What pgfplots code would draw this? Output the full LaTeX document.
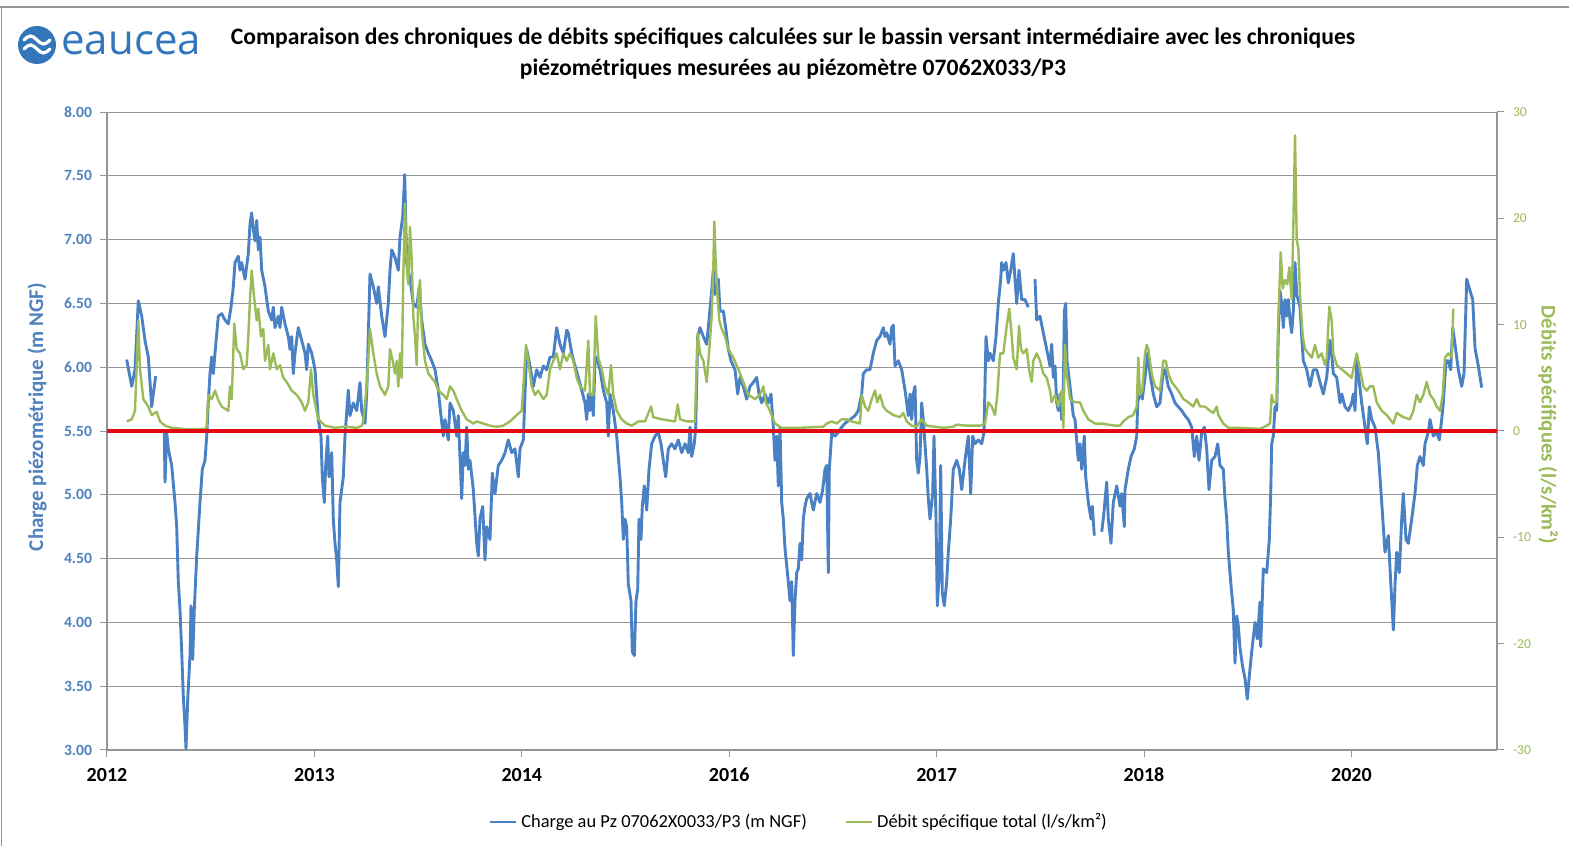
\documentclass[border=0pt]{standalone}
\usepackage{fontspec}
\setmainfont{Carlito}
\newfontfamily\logofont{Open Sans}
\usepackage{pgfplots}
\pgfplotsset{compat=1.18}
\definecolor{lineblue}{RGB}{74,128,196}
\definecolor{tickblue}{RGB}{79,129,189}
\definecolor{linegreen}{RGB}{155,187,89}
\definecolor{lineRed}{RGB}{228,10,20}
\definecolor{gridgray}{RGB}{150,150,150}
\definecolor{logoblue}{RGB}{52,118,186}
\begin{document}
\begin{tikzpicture}[x=0.5pt,y=0.5pt]
\useasboundingbox (0,0) rectangle (1569,846);
\fill[white] (0,0) rectangle (1569,846);
\draw[gridgray, line width=0.7pt] (0,839) -- (1569,839);
\draw[gridgray, line width=0.7pt] (1.5,839) -- (1.5,0);
% logo
\fill[logoblue] (37,801) circle (19);
\draw[white, line width=1.6pt, line cap=round] (24,806) sin (30.5,810) cos (37,806) sin (43.5,802) cos (50,806);
\draw[white, line width=1.6pt, line cap=round] (24,797) sin (30.5,801) cos (37,797) sin (43.5,793) cos (50,797);
\node[anchor=west, inner sep=0, text=logoblue, font=\logofont\fontsize{21}{24}\selectfont] at (61,803) {eaucea};
% title
\node[font=\bfseries\fontsize{11.8}{13}\selectfont] at (793,808) {Comparaison des chroniques de débits spécifiques calculées sur le bassin versant intermédiaire avec les chroniques};
\node[font=\bfseries\fontsize{11.8}{13}\selectfont] at (793,777) {piézométriques mesurées au piézomètre 07062X033/P3};
% axis labels
\node[rotate=90, font=\bfseries\fontsize{10.5}{12}\selectfont, text=tickblue] at (37,429) {Charge piézométrique (m NGF)};
\node[rotate=-90, font=\bfseries\fontsize{10.4}{12}\selectfont, text=linegreen] at (1548,421) {Débits spécifiques (l/s/km²)};

\begin{axis}[
  at={(53.5pt,48pt)}, anchor=south west, scale only axis,
  width=695pt, height=319pt,
  xmin=0, xmax=1390, ymin=3, ymax=8,
  axis x line*=bottom, axis y line*=left,
  axis line style={gridgray, line width=0.6pt, -},
  xtick={0,207.4,414.8,622.2,829.6,1037,1244.4},
  xticklabels={2012,2013,2014,2016,2017,2018,2020},
  ytick={3,3.5,4,4.5,5,5.5,6,6.5,7,7.5,8},
  ymajorgrids, grid style={gridgray, line width=0.5pt},
  tick align=outside, major tick length=3.5pt,
  tick style={gridgray, line width=0.5pt},
  x tick label style={font=\bfseries\fontsize{10}{12}\selectfont, yshift=-2pt},
  y tick label style={font=\bfseries\fontsize{7.8}{9}\selectfont, text=tickblue, xshift=-0.5pt},
  yticklabel style={/pgf/number format/.cd, fixed, fixed zerofill, precision=2},
  /pgf/number format/assume math mode=true,
  unbounded coords=jump,
]
\addplot[lineblue, line width=1.45pt, line join=round] coordinates {
(19.7,6.06) (24.7,5.85) (28,5.98) (31.3,6.52) (34.7,6.40) (38,6.21) (41.3,6.08) (44.7,5.69) (46.3,5.79) (48.7,5.93)
(53,nan)
(57.3,5.49) (58,5.10) (59.7,5.49) (61.3,5.36) (64.7,5.23) (68,4.94) (69.7,4.75) (71.3,4.32) (73,4.10) (74.7,3.77)
(76.3,3.42) (78,3.19) (79,3.01) (80.7,3.39) (83,3.74) (84,4.13) (85.7,3.71) (87.3,4.10) (89.7,4.52) (93,4.94)
(95.3,5.20) (98,5.27) (99.7,5.46) (101.3,5.72) (103,5.95) (104.7,6.08) (106.3,5.95) (108,6.11) (111.3,6.40) (114.7,6.42)
(118,6.37) (121.3,6.34) (124,6.47) (126.3,6.63) (128,6.82) (131.3,6.87) (133,6.76) (134.7,6.82) (138,6.69) (141.3,6.89)
(143,7.12) (144.7,7.21) (146.3,7.08) (148,6.99) (149.7,7.15) (151.3,6.92) (153,7.02) (154.7,6.76) (158,6.63) (161.3,6.44)
(164.7,6.37) (166.3,6.47) (168,6.31) (171.3,6.40) (173,6.31) (174.7,6.47) (178,6.34) (181.3,6.24) (183,6.14) (184.7,6.24)
(186.3,5.95) (188,6.11) (191.3,6.31) (194.7,6.21) (198,6.11) (199.7,5.98) (201.3,6.18) (204.7,6.11) (206.3,6.05) (208,5.98)
(211.3,5.59) (214,5.46) (215.3,5.14) (217.3,4.94) (218.7,5.23) (220.7,5.46) (222,5.14) (224.7,5.33) (226.3,4.81) (228,4.62)
(229.7,4.49) (231.3,4.28) (233,4.94) (236.3,5.14) (238,5.46) (241.3,5.82) (243,5.62) (246.3,5.72) (249.7,5.66) (253,5.88)
(254.7,5.66) (258,5.56) (259.7,5.79) (263,6.73) (266.3,6.63) (269.7,6.50) (271.3,6.63) (274.7,6.40) (278,6.24) (281.3,6.50)
(283,6.76) (284.7,6.92) (288,6.86) (291.3,6.76) (293,7.02) (295.7,7.18) (297.7,7.51) (299.7,6.82) (303,6.69) (306.3,6.50)
(309.7,6.47) (312.3,6.63) (314.7,6.37) (318,6.18) (321.3,6.11) (324.7,6.05) (328,5.98) (331.3,5.82) (333,5.69) (336.3,5.46)
(338,5.59) (341.3,5.43) (343,5.72) (346.3,5.66) (349.7,5.46) (351.3,5.62) (354.7,4.97) (356.3,5.33) (358,5.23) (359.7,5.53)
(361.3,5.20) (363,5.27) (366.3,5.04) (369.7,4.62) (371.3,4.52) (373,4.81) (375.7,4.91) (378,4.49) (379.7,4.75) (383,4.65)
(385.3,5.17) (388,5.01) (391.3,5.23) (394.7,5.27) (398,5.33) (401.3,5.43) (404.7,5.33) (408,5.36) (411.3,5.14) (413,5.36)
(416.3,5.43) (418,5.79) (419.7,6.14) (423,6.01) (426.3,5.85) (429.7,5.98) (433,5.92) (436.3,6.01) (439.7,5.98) (443,6.08)
(446.3,6.08) (449.7,6.31) (453,6.18) (456.3,6.11) (459.7,6.29) (461.3,6.27) (464.7,6.11) (468,6.01) (471.3,5.92) (474.7,5.82)
(478,5.72) (479.7,5.59) (481.3,5.79) (483,5.66) (484.7,5.79) (486.3,5.62) (488,6.05) (489.7,6.08) (493,5.98) (496.3,5.82)
(499.7,5.72) (501.3,5.46) (503,5.79) (506.3,5.66) (509.7,5.46) (511.3,5.30) (513,5.14) (514.7,4.94) (516.3,4.65) (518,4.81)
(519.7,4.75) (521.3,4.30) (524,4.17) (525.3,3.77) (527.3,3.74) (529,4.17) (530.7,4.26) (532,4.81) (534,4.65) (535.3,4.91)
(537.3,5.07) (539.7,4.88) (542,5.20) (544.7,5.40) (548,5.46) (551.3,5.49) (554,5.40) (556.3,5.27) (558.7,5.14) (561.3,5.36)
(564.7,5.40) (568,5.36) (571.3,5.43) (574.7,5.33) (578,5.40) (581.3,5.33) (583,5.53) (584.7,5.30) (587.3,5.40) (588.7,5.53)
(590.7,6.24) (593,6.31) (596.3,6.24) (599.7,6.18) (602,6.37) (604.7,6.60) (606.3,6.76) (608,6.57) (609.7,6.63) (611.3,6.69)
(613,6.44) (616.3,6.44) (618.7,6.31) (621.3,6.14) (624,6.05) (628,5.98) (630.7,5.79) (633,5.92) (636.3,5.85) (639.7,5.75)
(643,5.85) (646.3,5.88) (649.7,5.92) (652,5.79) (654.7,5.72) (658,5.79) (661.3,5.72) (664,5.79) (666.3,5.53) (668,5.27)
(669.7,5.46) (671.3,5.07) (673,5.53) (674.7,4.94) (676.3,4.81) (678,4.58) (681.3,4.32) (683,4.17) (684.7,4.32) (686.3,3.74)
(688,4.17) (689.7,4.39) (691.3,4.42) (693,4.62) (694.7,4.49) (696.3,4.81) (698,4.91) (699.7,4.97) (703,5.01) (704.7,4.94)
(706.3,4.88) (709.7,5.01) (713,4.94) (715.7,5.04) (718,5.20) (719.7,5.23) (721.3,4.39) (722.3,5.20) (723.7,5.36) (724.7,5.49)
(728,5.46) (731.3,5.49) (734.7,5.53) (738,5.56) (743,5.59) (748,5.62) (751.3,5.66) (754.7,5.79) (756.3,5.95) (759.7,5.98)
(763,5.98) (766.3,6.11) (769.7,6.21) (773,6.24) (776.3,6.31) (778,6.24) (779.7,6.27) (783,6.18) (784.7,6.31) (786.3,6.33)
(788,6.01) (791.3,6.05) (794.7,5.98) (798,5.82) (799.7,5.72) (801.3,5.62) (803,5.79) (804.7,5.59) (806.3,5.79) (808,5.85)
(809.7,5.27) (811.3,5.17) (813,5.30) (814.7,5.72) (816.3,5.59) (819.7,5.20) (821.3,4.97) (823,4.81) (825.7,5.01) (827,5.46)
(829,4.81) (830.3,4.13) (832.3,4.39) (833.7,5.23) (835.3,4.23) (837.3,4.13) (839.7,4.32) (841.3,4.55) (843.7,4.81) (846.3,5.20)
(849.7,5.27) (852.3,5.20) (854.7,5.04) (858,5.27) (861.3,5.46) (863.7,5.01) (865.7,5.46) (868,5.40) (871.3,5.43) (874.7,5.40)
(877,5.49) (879,6.24) (881.3,6.05) (883,6.11) (886.3,6.05) (889,6.24) (891.3,6.50) (893.7,6.69) (894.7,6.82) (896.3,6.76)
(899,6.82) (901.3,6.66) (903.7,6.76) (906.3,6.89) (909.7,6.50) (912,6.76) (914.7,6.53) (918,6.53) (921.3,6.47)
(924.5,nan)
(928,6.69) (929.7,6.37) (933,6.40) (936.3,6.27) (939.7,6.14) (943,6.01) (944.7,6.18) (946.3,5.92) (948,6.01) (949.7,5.72)
(951.3,5.66) (953,5.79) (954.7,5.59) (956.3,5.79) (957.3,6.44) (958.7,6.50) (960,6.05) (963,5.85) (966.3,5.62) (968,5.59)
(971.3,5.27) (973,5.40) (974.7,5.20) (977.3,5.46) (978.7,5.14) (981.3,4.94) (984,4.81) (985.3,4.91) (987.3,4.68)
(991,nan)
(994.7,4.71) (996.3,4.81) (999.7,5.10) (1001.3,4.81) (1004,4.62) (1006.3,4.94) (1009.7,5.07) (1013,4.91) (1014.7,5.01) (1017.3,4.75)
(1018,5.04) (1021.3,5.20) (1024,5.30) (1027.3,5.36) (1029.7,5.46) (1030.7,5.72) (1033,5.82) (1035.3,5.75) (1038,5.92) (1040.7,6.11)
(1043,5.95) (1046.3,5.79) (1049.7,5.69) (1053,5.72) (1056.3,5.98) (1058,5.98) (1061.3,5.85) (1064.7,5.79) (1068,5.72) (1071.3,5.69)
(1074.7,5.66) (1078,5.62) (1081.3,5.59) (1084.7,5.53) (1087.3,5.30) (1089.7,5.46) (1092,5.27) (1094.7,5.49) (1097.3,5.53) (1099.7,5.36)
(1102,5.04) (1104.7,5.27) (1108,5.30) (1110.7,5.40) (1113,5.23) (1116.3,5.20) (1118,4.97) (1119.7,4.81) (1121.3,4.55) (1124,4.29)
(1126.3,4.10) (1128,3.68) (1129.7,4.05) (1131.3,3.97) (1133,3.80) (1135.7,3.65) (1138,3.56) (1140.3,3.40) (1142.3,3.58) (1144.7,3.77)
(1148,4.00) (1150.3,3.87) (1153,4.16) (1153.7,3.81) (1156.3,4.42) (1159.7,4.39) (1162.3,4.65) (1163.7,5.01) (1164.7,5.40) (1166.3,5.46)
(1168,5.69) (1169.7,5.66) (1171.3,6.27) (1173,6.60) (1174.7,6.50) (1176.3,6.31) (1178,6.53) (1179.7,6.40) (1181.3,6.53) (1183,6.37)
(1184.7,6.27) (1186.3,6.44) (1188,6.82) (1189.7,6.57) (1193,6.47) (1194.7,6.24) (1196.3,6.05) (1199.7,5.98) (1203,5.85) (1206.3,5.98)
(1209.7,5.98) (1213,5.88) (1216.3,5.79) (1219.7,5.92) (1223,6.21) (1224.7,6.11) (1226.3,5.95) (1229.7,5.92) (1233,5.72) (1234.7,5.79)
(1238,5.69) (1241.3,5.66) (1244.7,5.72) (1246.3,5.79) (1248,5.66) (1249.7,6.05) (1251.3,5.95) (1254.7,5.72) (1258,5.53) (1260.3,5.40)
(1262.3,5.69) (1264.7,5.59) (1268,5.53) (1271.3,5.33) (1274.7,4.94) (1278,4.55) (1281.3,4.68) (1283.7,4.32) (1286.3,3.94) (1288,4.29)
(1289.7,4.55) (1292.3,4.39) (1294.7,4.81) (1296.3,5.01) (1299,4.65) (1301.3,4.62) (1304.7,4.81) (1308,5.01) (1310.3,5.23) (1313,5.30)
(1316.3,5.23) (1318,5.40) (1321.3,5.49) (1323,5.59) (1326.3,5.46) (1329.7,5.49) (1332.3,5.43) (1334.7,5.59) (1336.3,5.72) (1339,6.05)
(1341.3,6.05) (1343.7,5.98) (1345.7,6.31) (1348,6.18) (1351.3,5.98) (1354.7,5.85) (1357,5.95) (1359.7,6.69) (1363,6.60) (1365.7,6.53)
(1368,6.15) (1371.3,6.01) (1374.7,5.84)
};
\end{axis}

\begin{axis}[
  at={(53.5pt,48pt)}, anchor=south west, scale only axis,
  width=695pt, height=319pt,
  xmin=0, xmax=1390, ymin=-30, ymax=30,
  axis x line=none, axis y line*=right,
  axis line style={gridgray, line width=0.6pt, -},
  ytick={-30,-20,-10,0,10,20,30},
  tick align=outside, major tick length=3.5pt,
  tick style={gridgray, line width=0.5pt},
  y tick label style={font=\fontsize{6.8}{8}\selectfont, text=linegreen, xshift=1pt},
  /pgf/number format/assume math mode=true,
  legend style={at={(0.4985,-0.113)}, anchor=center, draw=none, fill=none,
    font=\fontsize{9.2}{10}\selectfont, legend columns=2,
    /tikz/every even column/.append style={column sep=17pt},
    /tikz/every odd column/.append style={column sep=0pt}},
  legend image code/.code={\draw[#1] (0pt,0pt) -- (13pt,0pt);},
]
\addlegendimage{lineblue, line width=1.2pt}
\addlegendentry{Charge au Pz 07062X0033/P3 (m NGF)}
\addplot[linegreen, line width=1.2pt, line join=round] coordinates {
(19.7,0.9) (24.7,1.1) (28,1.9) (31.3,10.4) (33,5.8) (36.3,3.0) (41.3,2.3) (44.7,1.5) (49.7,1.8) (53,0.9)
(58,0.5) (64.7,0.3) (81.3,0.15) (98,0.2) (99.7,0.4) (101.3,3.4) (104.7,3.0) (108,3.8) (111.3,2.9) (114.7,2.3)
(121.3,1.9) (123,4.2) (124.7,3.0) (127.3,10.1) (129.7,7.7) (133,7.3) (136.3,5.8) (139.7,6.2) (141.3,8.9) (143,12.4)
(144.7,15.1) (147.3,12.4) (149.7,10.4) (151.3,11.5) (154,8.9) (156.3,9.6) (158,6.6) (161.3,8.1) (163,5.8) (166.3,7.3)
(169.7,5.8) (173,6.2) (176.3,5.0) (179.7,4.6) (184.7,3.8) (189.7,3.4) (194.7,2.7) (198,1.9) (201.3,2.7) (204,5.8)
(206.3,3.4) (211.3,1.1) (218,0.5) (228,0.3) (238,0.4) (250,0.3) (255,0.5) (256.3,1.0) (259.7,4.2) (263,9.6)
(266.3,7.3) (269.7,5.4) (273,4.2) (278,3.4) (281.3,4.2) (283,7.7) (285.7,6.6) (288,5.4) (289.7,6.6) (291.3,4.2)
(293,7.3) (294.7,5.0) (296.3,14.6) (298,21.4) (299.7,15.4) (301.3,13.8) (303,19.2) (304.7,16.1) (306.3,10.8) (308,8.9)
(309.7,6.2) (311.3,12.6) (313,14.2) (314.7,9.6) (318,6.6) (321.3,5.4) (324.7,5.0) (328,4.6) (331.3,3.8) (336.3,3.4)
(339.7,3.0) (343,4.2) (346.3,3.8) (349.7,3.0) (354.7,1.9) (359.7,1.1) (366.3,0.7) (369.7,0.9) (376.3,0.7) (383,0.5)
(389.7,0.4) (396.3,0.5) (403,0.9) (409.7,1.5) (414.7,1.9) (419,8.1) (421.3,6.6) (424.7,4.2) (428,3.4) (431.3,3.8)
(436.3,3.0) (439.7,3.4) (443,5.8) (446.3,6.6) (449.7,7.3) (453,5.8) (456.3,7.3) (459.7,6.6) (463,7.3) (466.3,6.6)
(469.7,5.0) (473,4.2) (478,3.8) (481.3,8.5) (483,3.4) (486.3,3.4) (488.7,10.8) (491.3,6.9) (494.7,5.8) (498,4.2)
(501.3,3.4) (504,6.2) (506.3,3.4) (509.7,1.9) (514.7,1.1) (519.7,0.7) (524.7,0.5) (531.3,0.9) (538,0.9) (544,2.3)
(546.3,1.3) (554.7,1.1) (561.3,1.0) (568,0.9) (570.7,2.5) (573,1.1) (579.7,0.9) (588,0.9) (590.7,9.2) (593,7.3)
(596.3,6.6) (599.7,4.6) (602,7.3) (604.7,10.8) (606.3,15.4) (607.3,19.7) (608.7,15.8) (610.7,12.4) (612.3,10.4) (614.7,9.6)
(618,8.9) (621.3,7.7) (626.3,6.9) (631.3,5.8) (636.3,4.6) (641.3,3.4) (648,3.0) (653,3.4) (656.3,4.2) (658.7,2.7)
(663,1.9) (668,0.7) (674.7,0.3) (693,0.3) (716.3,0.4) (719.7,0.7) (724.7,0.9) (729.7,0.7) (734.7,1.1) (739.7,1.1)
(744.7,0.9) (753,0.7) (754.7,3.4) (758,2.3) (761.3,1.9) (764.7,3.0) (768,3.8) (770.3,2.7) (773,3.4) (776.3,2.3)
(779.7,1.9) (786.3,1.5) (793,1.3) (796.3,1.7) (799.7,0.9) (804.7,0.5) (809.7,0.4) (814.7,1.1) (819.7,0.5) (836.3,0.3)
(846.3,0.4) (849.7,0.6) (859.7,0.5) (873,0.5) (878,0.7) (881.3,2.7) (884.7,2.3) (888,1.5) (890.3,3.4) (893,7.3)
(896.3,7.3) (899.7,9.9) (902.3,11.5) (904.7,8.9) (906.3,6.9) (909.7,5.8) (912,9.9) (914,7.7) (916.3,7.3) (919.7,7.7)
(922,5.8) (924.7,4.6) (926.3,6.6) (929.7,7.3) (933,6.6) (936.3,5.4) (939.7,5.0) (943,3.8) (944.7,2.7) (948,3.4)
(951.3,2.3) (954.7,3.8) (956.3,0.3) (958,8.1) (959.7,5.4) (963,3.0) (968,2.7) (973,2.7) (976.3,1.9) (981.3,1.1)
(988,0.7) (994.7,0.7) (1001.3,0.6) (1008,0.5) (1013,0.5) (1016.3,0.9) (1021.3,1.3) (1026.3,1.5) (1029.7,2.3) (1031.3,6.9)
(1033,3.4) (1035.3,3.8) (1038,7.3) (1039.7,8.1) (1041.3,7.7) (1044.7,5.4) (1048,4.2) (1053,3.8) (1056.3,6.6) (1058.7,6.6)
(1061.3,5.4) (1064.7,4.6) (1068,4.2) (1071.3,3.8) (1076.3,3.0) (1081.3,2.7) (1086.3,2.3) (1089.7,3.0) (1093,2.3) (1098,2.3)
(1103,1.9) (1106.3,1.7) (1109.7,2.3) (1111.3,1.5) (1116.3,0.7) (1121.3,0.3) (1131.3,0.3) (1153,0.2) (1159.7,0.5) (1163,0.7)
(1164.7,3.4) (1166.3,2.7) (1169.7,2.7) (1171.3,10.4) (1173.7,16.8) (1175.7,13.4) (1178,14.2) (1180.3,13.8) (1182.3,15.4) (1184.7,12.4)
(1186.3,19.2) (1188,27.8) (1189.7,18.0) (1191.3,17.2) (1193,12.8) (1195.7,8.9) (1198,7.7) (1201.3,7.3) (1204.7,6.9) (1208,8.1)
(1211.3,6.9) (1214.7,7.3) (1218,6.2) (1219.7,6.9) (1222.3,11.7) (1224.7,10.4) (1226.3,7.3) (1229.7,6.2) (1234.7,5.8) (1239.7,5.4)
(1244.7,5.0) (1246.3,5.8) (1249.7,7.3) (1253,5.8) (1256.3,4.2) (1259.7,3.8) (1263,4.2) (1266.3,4.2) (1269.7,2.7) (1274.7,1.9)
(1279.7,1.5) (1283,1.1) (1286.3,0.7) (1289.7,1.7) (1296.3,1.3) (1303,1.1) (1306.3,1.9) (1309.7,3.4) (1313,2.7) (1316.3,3.4)
(1319.7,4.6) (1323,3.4) (1326.3,3.0) (1329.7,2.3) (1333,1.9) (1335.7,3.4) (1338,6.9) (1341.3,7.3) (1344.7,6.9) (1346.3,11.5)
};
\addlegendentry{Débit spécifique total (l/s/km²)}
\addplot[lineRed, line width=2pt, forget plot] coordinates {(0,0) (1390,0)};
\end{axis}
\end{tikzpicture}
\end{document}
